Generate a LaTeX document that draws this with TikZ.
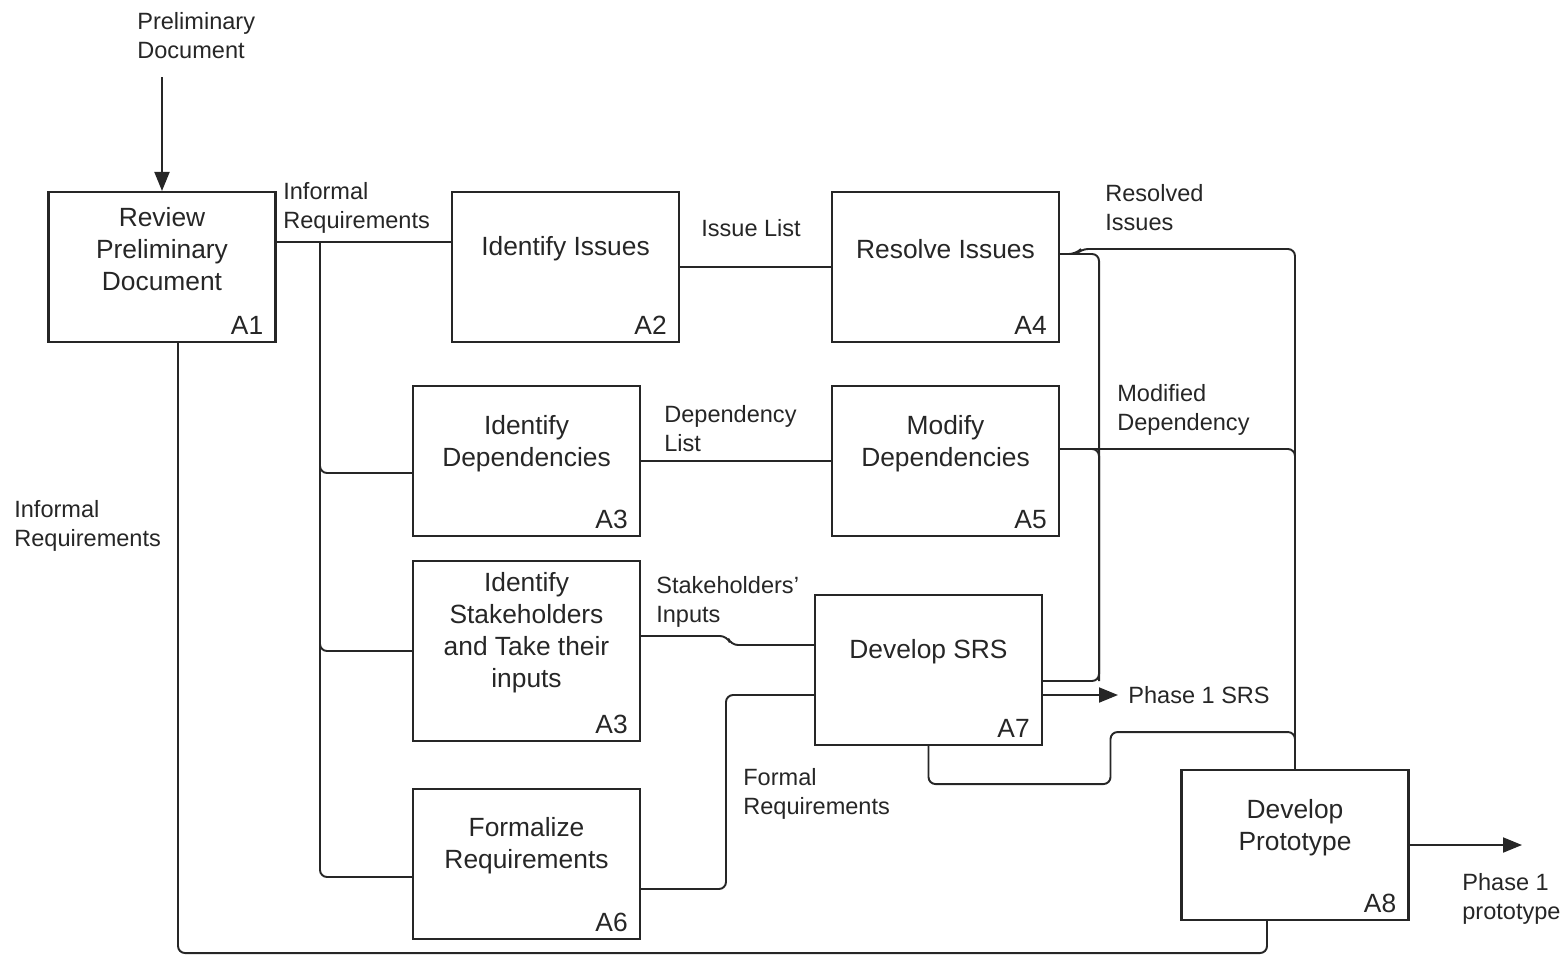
\documentclass[tikz,border=0pt]{standalone}
\usepackage{fontspec}
\setmainfont{Liberation Sans}
\usetikzlibrary{arrows.meta}
\begin{document}
\begin{tikzpicture}[x=0.02cm,y=-0.02cm,
    procbox/.style={draw=black!85,line width=1.2pt,minimum width=4.54cm,minimum height=3cm,inner sep=0pt},
    proctext/.style={align=center,text=black!85,inner sep=0pt,font=\fontsize{15}{18.2}\selectfont},
    idlabel/.style={anchor=south east,text=black!85,inner xsep=0.26cm,inner ysep=0.16cm,font=\fontsize{15}{18.2}\selectfont},
    flowlabel/.style={anchor=west,align=left,text=black!85,inner sep=0pt,font=\fontsize{13.4}{16.5}\selectfont},
    flow/.style={draw=black!85,line width=1.1pt,rounded corners=4pt},
    flowarrow/.style={flow,-{Triangle[length=0.38cm,width=0.3cm]}}]

        \useasboundingbox (0,0) rectangle (1568,954);

        \node[procbox] (a1) at (162,267) {};
        \node[proctext] (a1txt) at (162,249) {Review\\Preliminary\\Document};
        \node[idlabel] (a1id) at (a1.south east) {A1};

        \node[procbox] (a2) at (565.5,267) {};
        \node[proctext] (a2txt) at (565.5,249) {Identify Issues};
        \node[idlabel] (a2id) at (a2.south east) {A2};

        \node[procbox] (a4) at (945.5,267) {};
        \node[proctext] (a4txt) at (945.5,249) {Resolve Issues};
        \node[idlabel] (a4id) at (a4.south east) {A4};

        \node[procbox] (a3) at (526.5,461) {};
        \node[proctext] (a3txt) at (526.5,444) {Identify\\Dependencies};
        \node[idlabel] (a3id) at (a3.south east) {A3};

        \node[procbox] (a5) at (945.5,461) {};
        \node[proctext] (a5txt) at (945.5,444) {Modify\\Dependencies};
        \node[idlabel] (a5id) at (a5.south east) {A5};

        \node[procbox,minimum height=3.6cm] (a3s) at (526.5,651) {};
        \node[proctext] (a3stxt) at (526.5,633) {Identify\\Stakeholders\\and Take their\\inputs};
        \node[idlabel] (a3sid) at (a3s.south east) {A3};

        \node[procbox] (a7) at (928.5,670) {};
        \node[proctext] (a7txt) at (928.5,652) {Develop SRS};
        \node[idlabel] (a7id) at (a7.south east) {A7};

        \node[procbox] (a6) at (526.5,864) {};
        \node[proctext] (a6txt) at (526.5,846) {Formalize\\Requirements};
        \node[idlabel] (a6id) at (a6.south east) {A6};

        \node[procbox] (a8) at (1295,845) {};
        \node[proctext] (a8txt) at (1295,827.5) {Develop\\Prototype};
        \node[idlabel] (a8id) at (a8.south east) {A8};

        \node[flowlabel] (prelim) at (137,36) {Preliminary\\Document};
        \node[flowlabel] (infreq) at (283,208) {Informal\\Requirements};
        \node[flowlabel] (issuelist) at (701,228) {Issue List};
        \node[flowlabel] (resolved) at (1105,208) {Resolved\\Issues};
        \node[flowlabel] (deplist) at (664,429) {Dependency\\List};
        \node[flowlabel] (moddep) at (1117,410) {Modified\\Dependency};
        \node[flowlabel] (infreqtwo) at (14,526) {Informal\\Requirements};
        \node[flowlabel] (stakein) at (656,602) {Stakeholders{\char"0027}\\Inputs};
        \node[flowlabel] (phasesrs) at (1128,695) {Phase 1 SRS};
        \node[flowlabel] (formreq) at (743,794) {Formal\\Requirements};
        \node[flowlabel] (phaseproto) at (1462,899) {Phase 1\\prototype};

        \coordinate (pdtop) at (162,77);
        \coordinate (split) at (320,242);
        \coordinate (protoout) at (1522,845);

        \draw[flowarrow] (pdtop) -- (a1.north);

        \draw[flow] ([yshift=0.5cm]a1.east) -- ([yshift=0.5cm]a2.west);
        \draw[flow] (split) |- ([yshift=-0.24cm]a3.west);
        \draw[flow] (split) |- (a3s.west);
        \draw[flow] (split) |- ([yshift=-0.26cm]a6.west);

        \draw[flow] (a2.east) -- (a4.west);
        \draw[flow] (a3.east) -- (a5.west);

        \draw[flow] ([yshift=0.3cm]a3s.east) -- ++(86,0) -- ++(4,9) -- ([yshift=0.5cm]a7.west);
        \draw[flow] ([yshift=-0.5cm]a6.east) -| ([xshift=-1.76cm,yshift=-0.5cm]a7.west) -- ([yshift=-0.5cm]a7.west);

        \draw[flow] ([yshift=0.26cm]a4.east) -- ++(16,0) -- ++(5,-5) -| (a8.north);
        \draw[flow] ([yshift=0.26cm]a4.east) -| ([xshift=1.12cm,yshift=-0.22cm]a7.east) -- ([yshift=-0.22cm]a7.east);
        \draw[flow] ([yshift=0.24cm]a5.east) -| (a8.north);
        \draw[flow] ([yshift=0.24cm]a5.east) -| ([xshift=1.12cm,yshift=-0.22cm]a7.east);

        \draw[flowarrow,shorten >=0.2cm] ([yshift=-0.5cm]a7.east) -- (phasesrs.west);
        \draw[flow] (a7.south) -- ++(0,38) -- ++(182,0) -- ++(0,-52) -| (a8.north);

        \draw[flowarrow] (a8.east) -- (protoout);
        \draw[flow] ([xshift=0.32cm]a1.south) |- ([xshift=-0.56cm,yshift=-0.64cm]a8.south) -- ([xshift=-0.56cm]a8.south);
    \end{tikzpicture}
\end{document}
